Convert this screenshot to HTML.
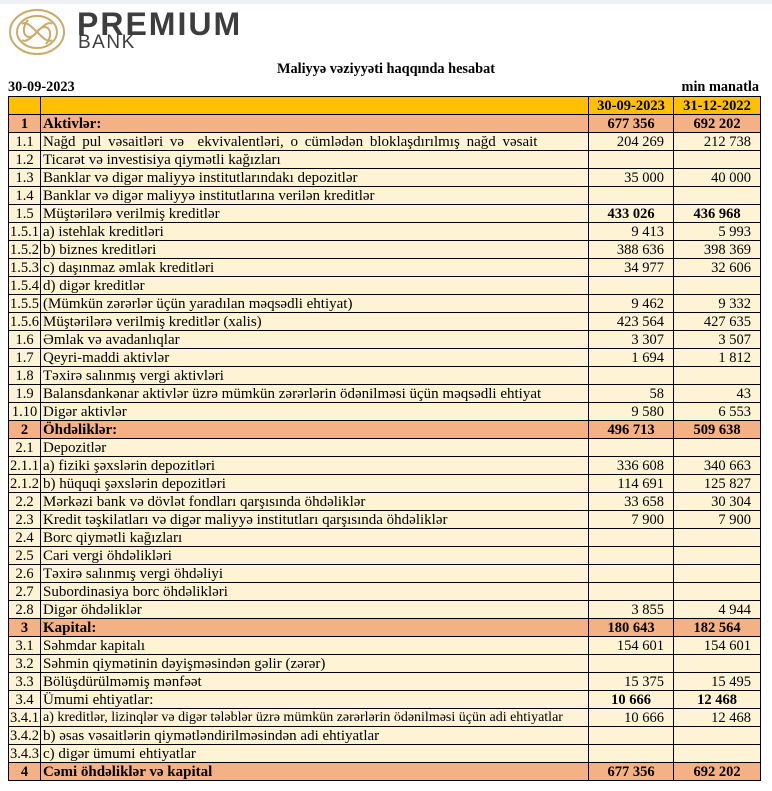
<!DOCTYPE html>
<html><head><meta charset="utf-8"><style>
body{margin:0;width:772px;height:791px;background:#fff;position:relative;overflow:hidden;font-family:"Liberation Serif",serif;color:#000}
.top{position:absolute;left:0;top:0;width:772px;height:4px;background:#eef0f6}
.logo{position:absolute;left:8px;top:8px}
.p{position:absolute;left:77px;top:6px;font-family:"Liberation Sans",sans-serif;font-weight:bold;font-size:32px;color:#3d3d3d;letter-spacing:2px}
.b{position:absolute;left:78px;top:32px;font-family:"Liberation Sans",sans-serif;font-size:19px;color:#3d3d3d;letter-spacing:1.5px}
.t{position:absolute;left:0;width:772px;top:61px;text-align:center;font-weight:bold;font-size:14.3px}
.d{position:absolute;left:8px;top:79px;font-weight:bold;font-size:14.3px}
.m{position:absolute;right:13px;top:79px;font-weight:bold;font-size:14.3px}
table{position:absolute;left:8px;top:96px;border-collapse:collapse;width:752px;table-layout:fixed;font-size:14.5px}
td{border:1px solid #000;height:17px;padding:0 4px 0 2px;background:#fff3d6;line-height:16px;white-space:nowrap;overflow:hidden}
td:nth-child(2){font-size:15px}
td:first-child{text-align:center;padding:0}
td:nth-child(3),td:nth-child(4){text-align:right;padding-right:9px}
tr.h td{background:#ffc000;font-weight:bold;text-align:center;padding:0}
tr.s td{background:#f4b183;font-weight:bold}
tr.s td:nth-child(3),tr.s td:nth-child(4){text-align:center;padding:0}
.bo td:nth-child(3),.bo td:nth-child(4){font-weight:bold;text-align:center;padding:0}
</style></head><body>
<div class="top"></div>
<svg class="logo" width="58" height="48" viewBox="0 0 58 48"><g fill="none" stroke="#c9ab6a" stroke-width="2">
<ellipse cx="29" cy="24" rx="27" ry="22"/><ellipse cx="29" cy="24" rx="20" ry="16"/>
<path d="M14 16 C22 10,36 38,44 32 M14 32 C22 38,36 10,44 16 M20 12 C10 24,20 36,29 24 C38 12,48 24,38 36"/></g></svg>
<div class="p">PREMIUM</div><div class="b">BANK</div>
<div class="t">Maliyyə vəziyyəti haqqında hesabat</div>
<div class="d">30-09-2023</div><div class="m">min manatla</div>
<table>
<colgroup><col style="width:32px"><col style="width:548px"><col style="width:85px"><col style="width:87px"></colgroup>
<tr class="h"><td></td><td></td><td>30-09-2023</td><td>31-12-2022</td></tr>
<tr class="s"><td>1</td><td>Aktivlər:</td><td>677 356</td><td>692 202</td></tr>
<tr><td>1.1</td><td style="word-spacing:3px">Nağd pul vəsaitləri və &nbsp;ekvivalentləri, o cümlədən bloklaşdırılmış nağd vəsait</td><td>204 269</td><td>212 738</td></tr>
<tr><td>1.2</td><td>Ticarət və investisiya qiymətli kağızları</td><td></td><td></td></tr>
<tr><td>1.3</td><td>Banklar və digər maliyyə institutlarındakı depozitlər</td><td>35 000</td><td>40 000</td></tr>
<tr><td>1.4</td><td>Banklar və digər maliyyə institutlarına verilən kreditlər</td><td></td><td></td></tr>
<tr class="bo"><td>1.5</td><td>Müştərilərə verilmiş kreditlər</td><td>433 026</td><td>436 968</td></tr>
<tr><td>1.5.1</td><td>a) istehlak kreditləri</td><td>9 413</td><td>5 993</td></tr>
<tr><td>1.5.2</td><td>b) biznes kreditləri</td><td>388 636</td><td>398 369</td></tr>
<tr><td>1.5.3</td><td>c) daşınmaz əmlak kreditləri</td><td>34 977</td><td>32 606</td></tr>
<tr><td>1.5.4</td><td>d) digər kreditlər</td><td></td><td></td></tr>
<tr><td>1.5.5</td><td>(Mümkün zərərlər üçün yaradılan məqsədli ehtiyat)</td><td>9 462</td><td>9 332</td></tr>
<tr><td>1.5.6</td><td>Müştərilərə verilmiş kreditlər (xalis)</td><td>423 564</td><td>427 635</td></tr>
<tr><td>1.6</td><td>Əmlak və avadanlıqlar</td><td>3 307</td><td>3 507</td></tr>
<tr><td>1.7</td><td>Qeyri-maddi aktivlər</td><td>1 694</td><td>1 812</td></tr>
<tr><td>1.8</td><td>Təxirə salınmış vergi aktivləri</td><td></td><td></td></tr>
<tr><td>1.9</td><td>Balansdankənar aktivlər üzrə mümkün zərərlərin ödənilməsi üçün məqsədli ehtiyat</td><td>58</td><td>43</td></tr>
<tr><td>1.10</td><td>Digər aktivlər</td><td>9 580</td><td>6 553</td></tr>
<tr class="s"><td>2</td><td>Öhdəliklər:</td><td>496 713</td><td>509 638</td></tr>
<tr><td>2.1</td><td>Depozitlər</td><td></td><td></td></tr>
<tr><td>2.1.1</td><td>a) fiziki şəxslərin depozitləri</td><td>336 608</td><td>340 663</td></tr>
<tr><td>2.1.2</td><td>b) hüquqi şəxslərin depozitləri</td><td>114 691</td><td>125 827</td></tr>
<tr><td>2.2</td><td>Mərkəzi bank və dövlət fondları qarşısında öhdəliklər</td><td>33 658</td><td>30 304</td></tr>
<tr><td>2.3</td><td>Kredit təşkilatları və digər maliyyə institutları qarşısında öhdəliklər</td><td>7 900</td><td>7 900</td></tr>
<tr><td>2.4</td><td>Borc qiymətli kağızları</td><td></td><td></td></tr>
<tr><td>2.5</td><td>Cari vergi öhdəlikləri</td><td></td><td></td></tr>
<tr><td>2.6</td><td>Təxirə salınmış vergi öhdəliyi</td><td></td><td></td></tr>
<tr><td>2.7</td><td>Subordinasiya borc öhdəlikləri</td><td></td><td></td></tr>
<tr><td>2.8</td><td>Digər öhdəliklər</td><td>3 855</td><td>4 944</td></tr>
<tr class="s"><td>3</td><td>Kapital:</td><td>180 643</td><td>182 564</td></tr>
<tr><td>3.1</td><td>Səhmdar kapitalı</td><td>154 601</td><td>154 601</td></tr>
<tr><td>3.2</td><td>Səhmin qiymətinin dəyişməsindən gəlir (zərər)</td><td></td><td></td></tr>
<tr><td>3.3</td><td>Bölüşdürülməmiş mənfəət</td><td>15 375</td><td>15 495</td></tr>
<tr class="bo"><td>3.4</td><td>Ümumi ehtiyatlar:</td><td>10 666</td><td>12 468</td></tr>
<tr><td>3.4.1</td><td style="font-size:14px">a) kreditlər, lizinqlər və digər tələblər üzrə mümkün zərərlərin ödənilməsi üçün adi ehtiyatlar</td><td>10 666</td><td>12 468</td></tr>
<tr><td>3.4.2</td><td>b) əsas vəsaitlərin qiymətləndirilməsindən adi ehtiyatlar</td><td></td><td></td></tr>
<tr><td>3.4.3</td><td>c) digər ümumi ehtiyatlar</td><td></td><td></td></tr>
<tr class="s"><td>4</td><td>Cəmi öhdəliklər və kapital</td><td>677 356</td><td>692 202</td></tr>
</table>
</body></html>
